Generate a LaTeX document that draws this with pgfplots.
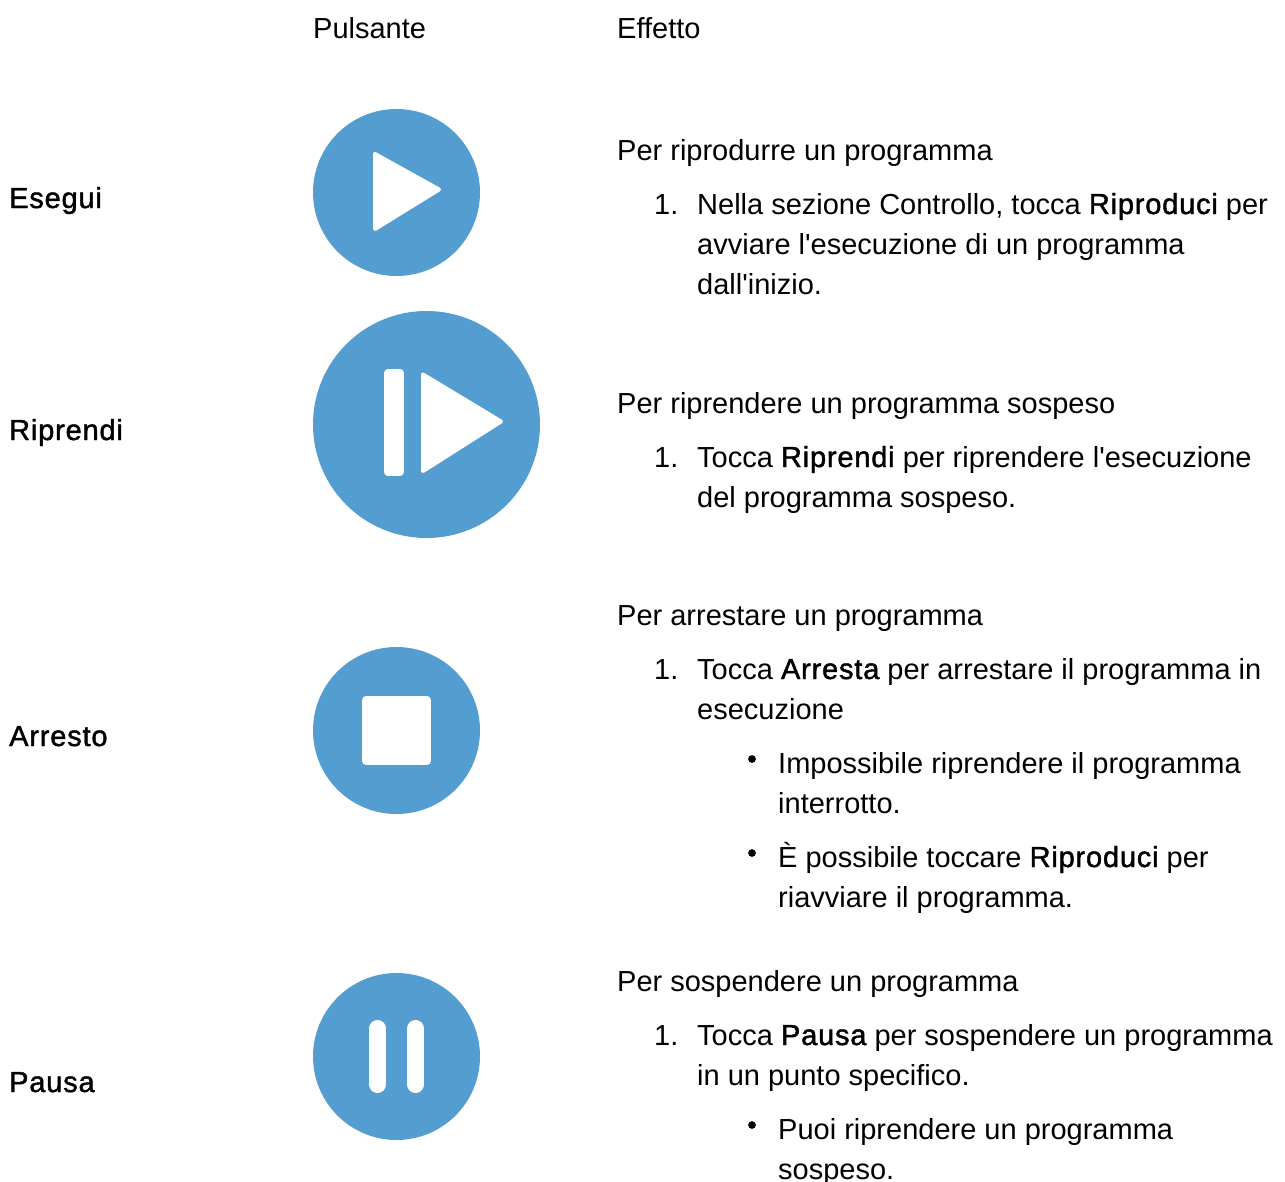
\documentclass[border=0pt]{standalone}
\usepackage{pgfplots}
\pgfplotsset{compat=1.18}
\usepackage{fontspec}
\setmainfont{Liberation Sans}
\newfontfamily\rg{Liberation Sans}
\newfontfamily\fb[FakeBold=1.5,LetterSpace=2.8]{Liberation Sans}
\definecolor{btn}{HTML}{549DD0}
\newcommand{\T}[3]{\node[anchor=base west,inner sep=0pt,font=\fontsize{29.0}{40}\rg,text=black] at (axis cs:#1,#2) {#3};}
\pgfplotsset{page axis/.style={
  width=1285pt,height=1181pt,scale only axis,
  xmin=0,xmax=1285,ymin=0,ymax=1181,y dir=reverse,
  hide axis,clip=false}}
\begin{document}
\begin{tikzpicture}
\path[use as bounding box,clip] (0,0) rectangle (1285pt,1181pt);
\begin{axis}[page axis]
% Circles
\addplot[only marks,color=btn,mark=*,mark size=83.5pt,mark options={draw opacity=0,fill=btn}] coordinates {(396.5,192.5) (396.5,730.5) (396.5,1056.5)};
\addplot[only marks,color=btn,mark=*,mark size=113.5pt,mark options={draw opacity=0,fill=btn}] coordinates {(426.5,424.5)};
\end{axis}
\begin{axis}[page axis]
% Play
\addplot[fill=white,draw=white,line width=4pt,line join=round,line cap=round] coordinates {(375,154) (439,189.5) (375,229) (375,154)};
% Resume
\addplot[fill=white,draw=white,line width=4pt,line join=round,line cap=round] coordinates {(423,374.5) (501,421.5) (423,471) (423,374.5)};
\addplot[fill=white,draw=white,line width=8pt,line join=round,line cap=round] coordinates {(388,373) (400,373) (400,472) (388,472) (388,373)};
% Stop
\addplot[fill=white,draw=white,line width=8pt,line join=round,line cap=round] coordinates {(366,700) (427,700) (427,761) (366,761) (366,700)};
% Pause
\addplot[draw=white,line width=17pt,line cap=round] coordinates {(377.5,1028.5) (377.5,1084.5)};
\addplot[draw=white,line width=17pt,line cap=round] coordinates {(415.5,1028.5) (415.5,1084.5)};
% Bullets
\addplot[only marks,color=black,mark=*,mark size=3.6pt,mark options={draw=black,fill=black}] coordinates {(752,759) (752,853) (752,1125)};
% Headers
\T{313}{38}{Pulsante}
\T{617}{38}{Effetto}
% Row labels
\T{9}{208}{{\fb Esegui}}
\T{9}{440}{{\fb Riprendi}}
\T{9}{746}{{\fb Arresto}}
\T{9}{1092}{{\fb Pausa}}
% Esegui
\T{617}{160}{Per riprodurre un programma}
\T{654}{214}{1.}
\T{697}{214}{Nella sezione Controllo, tocca {\fb Riproduci} per}
\T{697}{254}{avviare l'esecuzione di un programma}
\T{697}{294}{dall'inizio.}
% Riprendi
\T{617}{413}{Per riprendere un programma sospeso}
\T{654}{467}{1.}
\T{697}{467}{Tocca {\fb Riprendi} per riprendere l'esecuzione}
\T{697}{507}{del programma sospeso.}
% Arresto
\T{617}{625}{Per arrestare un programma}
\T{654}{679}{1.}
\T{697}{679}{Tocca {\fb Arresta} per arrestare il programma in}
\T{697}{719}{esecuzione}
\T{778}{773}{Impossibile riprendere il programma}
\T{778}{813}{interrotto.}
\T{778}{867}{È possibile toccare {\fb Riproduci} per}
\T{778}{907}{riavviare il programma.}
% Pausa
\T{617}{991}{Per sospendere un programma}
\T{654}{1045}{1.}
\T{697}{1045}{Tocca {\fb Pausa} per sospendere un programma}
\T{697}{1085}{in un punto specifico.}
\T{778}{1139}{Puoi riprendere un programma}
\T{778}{1179}{sospeso.}
\end{axis}
\end{tikzpicture}
\end{document}
